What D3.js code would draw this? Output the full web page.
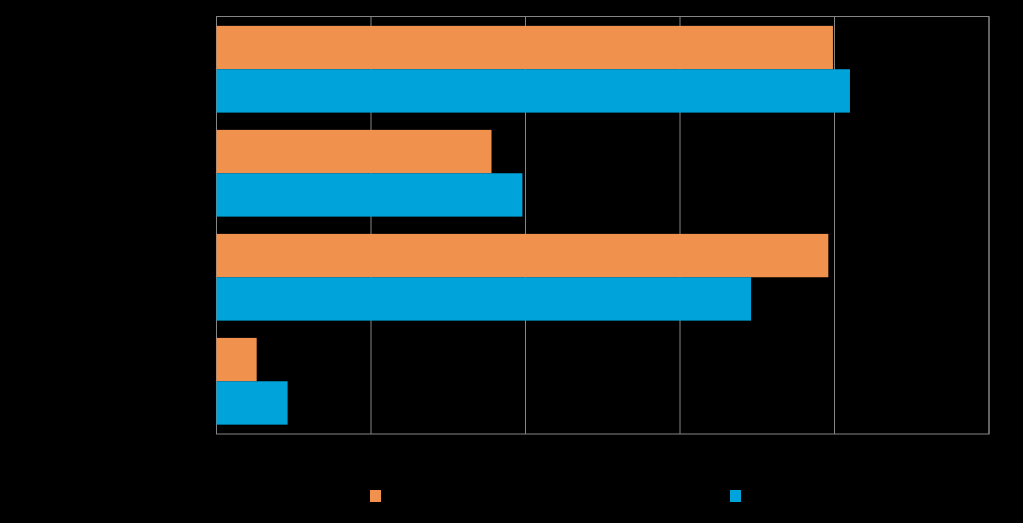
<!DOCTYPE html>
<html>
<head>
<meta charset="utf-8">
<script src="https://cdn.jsdelivr.net/npm/d3@7"></script>
<style>
  html, body { margin: 0; padding: 0; background: #000; }
  svg { display: block; }
</style>
</head>
<body>
<svg id="viz"></svg>
<script>
// Chart data
const categories = ["Category 1", "Category 2", "Category 3", "Category 4"];
const seriesNames = ["Series 1", "Series 2"];
const seriesA = [39.9, 17.8, 39.6, 2.6];
const seriesB = [41.0, 19.8, 34.6, 4.6];
const xTicks = [0, 10, 20, 30, 40, 50];

const width = 1023, height = 523;
const margin = { top: 16.5, right: 34, bottom: 89, left: 216.5 };
const colors = ["#F0924E", "#00A3DA"];

const svg = d3.select("#viz")
  .attr("width", width)
  .attr("height", height);

svg.append("rect")
  .attr("width", width)
  .attr("height", height)
  .attr("fill", "#000");

const chartWidth = width - margin.left - margin.right;
const chartHeight = height - margin.top - margin.bottom;

const g = svg.append("g")
  .attr("transform", `translate(${margin.left}, ${margin.top})`);

// Scales
const xScale = d3.scaleLinear()
  .domain([0, 50])
  .range([0, chartWidth]);

const yScale = d3.scaleBand()
  .domain(categories)
  .range([0, chartHeight])
  .paddingInner(0.166)
  .paddingOuter(0.09);

const ySub = d3.scaleBand()
  .domain([0, 1])
  .range([0, yScale.bandwidth()]);

// Gridlines
g.selectAll(".grid")
  .data(xTicks)
  .enter()
  .append("line")
  .attr("class", "grid")
  .attr("x1", d => xScale(d))
  .attr("x2", d => xScale(d))
  .attr("y1", 0)
  .attr("y2", chartHeight)
  .attr("stroke", "#858585")
  .attr("stroke-width", 1);

// Plot border
g.append("rect")
  .attr("x", 0)
  .attr("y", 0)
  .attr("width", chartWidth)
  .attr("height", chartHeight)
  .attr("fill", "none")
  .attr("stroke", "#858585")
  .attr("stroke-width", 1);

// Bars
const rows = categories.map((c, i) => ({ cat: c, vals: [seriesA[i], seriesB[i]] }));

const groups = g.selectAll(".cat")
  .data(rows)
  .enter()
  .append("g")
  .attr("class", "cat")
  .attr("transform", d => `translate(0, ${yScale(d.cat)})`);

groups.selectAll("rect")
  .data(d => d.vals.map((v, s) => ({ v, s })))
  .enter()
  .append("rect")
  .attr("x", xScale(0))
  .attr("y", d => ySub(d.s))
  .attr("width", d => xScale(d.v) - xScale(0))
  .attr("height", ySub.bandwidth())
  .attr("fill", d => colors[d.s]);

// Axes (text is black on black, as in the original)
const xAxis = g.append("g")
  .attr("transform", `translate(0, ${chartHeight})`)
  .call(d3.axisBottom(xScale).tickValues(xTicks).tickSize(0).tickFormat(d => d + "%"));
xAxis.select(".domain").remove();
xAxis.selectAll("text")
  .attr("fill", "#000")
  .attr("dy", "1.2em")
  .style("font-family", "Liberation Sans, Arial, sans-serif")
  .style("font-size", "14px");

const yAxis = g.append("g")
  .call(d3.axisLeft(yScale).tickSize(0));
yAxis.select(".domain").remove();
yAxis.selectAll("text")
  .attr("fill", "#000")
  .attr("dx", "-0.6em")
  .style("font-family", "Liberation Sans, Arial, sans-serif")
  .style("font-size", "14px");

// Legend
const legendX = [370, 730];
const legend = svg.selectAll(".legend")
  .data(seriesNames)
  .enter()
  .append("g")
  .attr("class", "legend")
  .attr("transform", (d, i) => `translate(${legendX[i]}, 490)`);

legend.append("rect")
  .attr("width", 11)
  .attr("height", 12)
  .attr("fill", (d, i) => colors[i]);

legend.append("text")
  .attr("x", 17)
  .attr("y", 10)
  .attr("fill", "#000")
  .style("font-family", "Liberation Sans, Arial, sans-serif")
  .style("font-size", "14px")
  .text(d => d);
</script>
</body>
</html>
